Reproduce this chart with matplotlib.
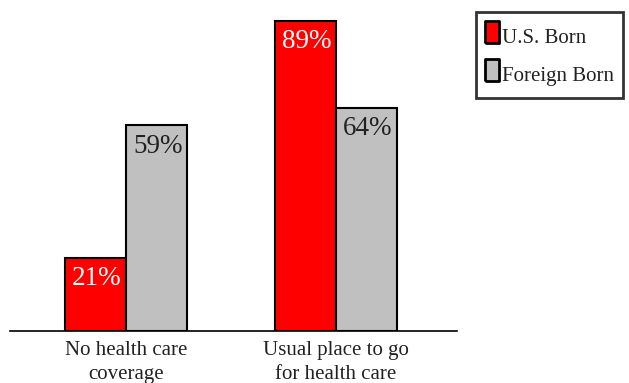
import matplotlib.pyplot as plt
from matplotlib.lines import Line2D
from matplotlib.markers import MarkerStyle
import numpy as np

categories = ['No health care\ncoverage', 'Usual place to go\nfor health care']
us_born = [21, 89]
foreign_born = [59, 64]
series_names = ['U.S. Born', 'Foreign Born']
colors = ['#ff0000', '#c0c0c0']

plt.rcParams['font.family'] = ['Liberation Serif', 'DejaVu Serif']

fig = plt.figure(figsize=(6.29, 3.83), dpi=100)
ax = fig.add_axes([10 / 629, 52 / 383, 447 / 629, 331 / 383])

x = np.arange(len(categories))
w = 0.29
b1 = ax.bar(x - w / 2, us_born, w, color=colors[0], edgecolor='black', linewidth=1.5)
b2 = ax.bar(x + w / 2, foreign_born, w, color=colors[1], edgecolor='black', linewidth=1.5)

for bars, vals, tc in [(b1, us_born, 'white'), (b2, foreign_born, '#222222')]:
    for bar, v in zip(bars, vals):
        ax.annotate(f'{v}%', (bar.get_x() + bar.get_width() / 2, v),
                    xytext=(1, -6), textcoords='offset points',
                    ha='center', va='top', fontsize=19.5, color=tc)

ax.set_xlim(-0.552, 1.576)
ax.set_ylim(0, 95)
ax.set_xticks(x)
ax.set_xticklabels(categories, fontsize=15, color='#222222', linespacing=1.4)
ax.tick_params(axis='x', length=0, pad=7)
ax.set_yticks([])
for s in ['top', 'right', 'left']:
    ax.spines[s].set_visible(False)
ax.spines['bottom'].set_linewidth(1.2)

# tall narrow box marker for the legend keys
box = MarkerStyle([(-0.33, -0.5), (0.33, -0.5), (0.33, 0.5), (-0.33, 0.5), (-0.33, -0.5)],
                  joinstyle='miter')
handles = [Line2D([], [], linestyle='none', marker=box, markersize=16,
                  markerfacecolor=c, markeredgecolor='black', markeredgewidth=2)
           for c in colors]
leg = fig.legend(handles, series_names, loc='upper left',
                 bbox_to_anchor=(476 / 629, 1 - 12 / 383), fontsize=15,
                 handlelength=0.6, handleheight=1.8, handletextpad=0.2,
                 labelspacing=0.4, borderpad=0.45, borderaxespad=0,
                 fancybox=False, frameon=True, edgecolor='black')
leg.get_frame().set_linewidth(2)
for t in leg.get_texts():
    t.set_color('#222222')

fig.savefig('out.png', dpi=100)
